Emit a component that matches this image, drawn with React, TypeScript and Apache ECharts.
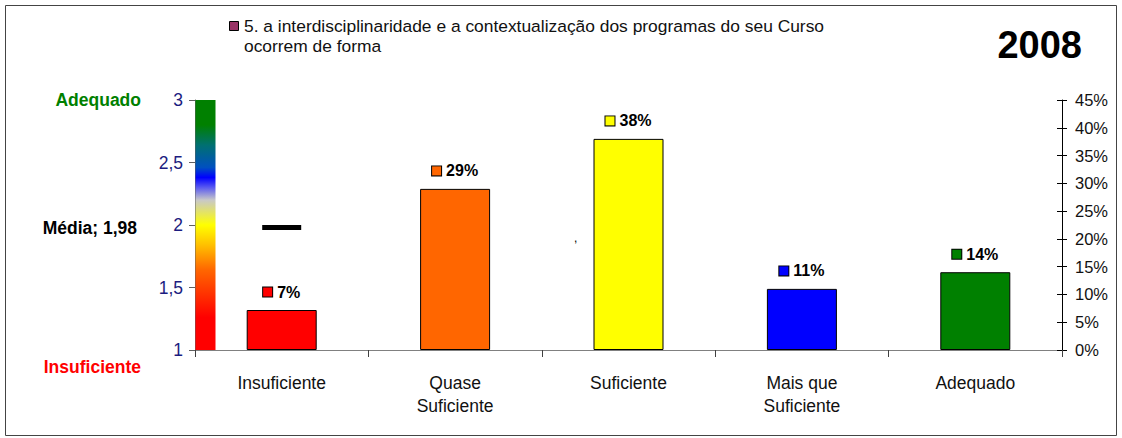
import React, { useEffect, useRef } from "react";
import * as echarts from "echarts";

const categories = ["Insuficiente", "Quase\nSuficiente", "Suficiente", "Mais que\nSuficiente", "Adequado"];
const shares = [0.072, 0.29, 0.38, 0.11, 0.14];
const barColors = ["#ff0000", "#ff6600", "#ffff00", "#0000ff", "#008000"];
const meanValue = 1.98;
const meanCategory = "Insuficiente";
const scaleMin = 1;
const scaleMax = 3;
const scaleStep = 0.5;
const pctMax = 0.45;
const pctStep = 0.05;
const legendText = "5. a interdisciplinaridade e a contextualização dos programas do seu Curso\nocorrem de forma";
const yearText = "2008";
const topLabel = "Adequado";
const bottomLabel = "Insuficiente";
const meanLabel = "Média; 1,98";

const FONT = "'Liberation Sans', Arial, Helvetica, sans-serif";
const GRID_LEFT = 195;
const GRID_RIGHT = 60;
const GRID_TOP = 100;
const GRID_BOTTOM = 88;

export default function App() {
  const ref = useRef<HTMLDivElement>(null);

  useEffect(() => {
    if (!ref.current) return;
    const chart = echarts.init(ref.current, null, { renderer: "svg" });

    const rich: Record<string, any> = {
      v: { fontFamily: FONT, fontSize: 16, fontWeight: "bold", color: "#000", padding: [0, 0, 0, 5] },
    };
    barColors.forEach((c, i) => {
      rich["m" + i] = { width: 9, height: 9, backgroundColor: c, borderColor: "#000", borderWidth: 1 };
    });

    chart.setOption({
      animation: false,
      backgroundColor: "#ffffff",
      grid: { left: GRID_LEFT, right: GRID_RIGHT, top: GRID_TOP, bottom: GRID_BOTTOM, containLabel: false },
      xAxis: {
        type: "category",
        data: categories,
        boundaryGap: true,
        axisLine: { show: true, lineStyle: { color: "#808080", width: 1 } },
        axisTick: { show: true, length: 7, lineStyle: { color: "#404040" } },
        axisLabel: { color: "#111", fontFamily: FONT, fontSize: 17.5, margin: 21, lineHeight: 23, interval: 0 },
        splitLine: { show: false },
      },
      yAxis: [
        {
          type: "value",
          position: "left",
          min: scaleMin,
          max: scaleMax,
          interval: scaleStep,
          axisLine: { show: true, lineStyle: { color: "#606060" } },
          axisTick: { show: true, length: 6, lineStyle: { color: "#606060" } },
          axisLabel: {
            color: "#1c1c80",
            fontFamily: FONT,
            fontSize: 17.5,
            margin: 12,
            formatter: (v: number) => String(v).replace(".", ","),
          },
          splitLine: { show: false },
        },
        {
          type: "value",
          position: "right",
          min: 0,
          max: pctMax,
          interval: pctStep,
          axisLine: { show: true, lineStyle: { color: "#000" } },
          axisTick: { show: true, length: 5, lineStyle: { color: "#000" } },
          axisLabel: {
            color: "#111",
            fontFamily: FONT,
            fontSize: 16.5,
            margin: 13,
            formatter: (v: number) => Math.round(v * 100) + "%",
          },
          splitLine: { show: false },
        },
        {
          type: "value",
          position: "right",
          min: 0,
          max: pctMax,
          interval: pctStep,
          axisLine: { show: false },
          axisTick: { show: true, inside: true, length: 5, lineStyle: { color: "#000" } },
          axisLabel: { show: false },
          splitLine: { show: false },
        },
      ],
      series: [
        {
          name: "Percentual",
          type: "bar",
          yAxisIndex: 1,
          barWidth: 70,
          data: shares.map((v, i) => ({
            value: v,
            itemStyle: { color: barColors[i], borderColor: "#000", borderWidth: 1 },
          })),
          label: {
            show: true,
            position: "top",
            distance: 10,
            formatter: (p: any) => `{m${p.dataIndex}|}{v|${Math.round(p.value * 100)}%}`,
            rich,
          },
          z: 2,
        },
        {
          name: "Média",
          type: "scatter",
          yAxisIndex: 0,
          symbol: "rect",
          symbolSize: [39, 5],
          itemStyle: { color: "#000", opacity: 1 },
          data: [[meanCategory, meanValue]],
          z: 5,
        },
      ],
    });

    const yTop = chart.convertToPixel({ yAxisIndex: 0 }, scaleMax) as number;
    const yBot = chart.convertToPixel({ yAxisIndex: 0 }, scaleMin) as number;
    const yMean = chart.convertToPixel({ yAxisIndex: 0 }, meanValue) as number;

    chart.setOption({
      graphic: [
        {
          type: "rect",
          shape: { x: 5.5, y: 5.5, width: 1111, height: 430 },
          style: { fill: "none", stroke: "#444", lineWidth: 1 },
          silent: true,
          z: 0,
        },
        {
          type: "rect",
          shape: { x: GRID_LEFT + 0.5, y: yTop, width: 20, height: yBot - yTop },
          style: {
            fill: new echarts.graphic.LinearGradient(0, 0, 0, 1, [
              { offset: 0, color: "#008000" },
              { offset: 0.1, color: "#008000" },
              { offset: 0.18, color: "#007070" },
              { offset: 0.27, color: "#0050c0" },
              { offset: 0.31, color: "#0000ff" },
              { offset: 0.35, color: "#5a5af0" },
              { offset: 0.4, color: "#c8c8c8" },
              { offset: 0.5, color: "#ffff00" },
              { offset: 0.58, color: "#ffc000" },
              { offset: 0.68, color: "#ff6600" },
              { offset: 0.78, color: "#ff3000" },
              { offset: 0.87, color: "#ff0000" },
              { offset: 1, color: "#ff0000" },
            ]),
          },
          z: 10,
        },
        {
          type: "text",
          x: 141,
          y: yTop,
          style: { text: topLabel, fill: "#008000", font: `bold 17.5px ${FONT}`, align: "right", verticalAlign: "middle" },
          z: 10,
        },
        {
          type: "text",
          x: 141,
          y: yBot + 17,
          style: { text: bottomLabel, fill: "#ff0000", font: `bold 17.5px ${FONT}`, align: "right", verticalAlign: "middle" },
          z: 10,
        },
        {
          type: "text",
          x: 137,
          y: yMean,
          style: { text: meanLabel, fill: "#000", font: `bold 17.5px ${FONT}`, align: "right", verticalAlign: "middle" },
          z: 10,
        },
        {
          type: "rect",
          shape: { x: 229.5, y: 21.5, width: 9, height: 9 },
          style: { fill: "#993366", stroke: "#000", lineWidth: 1 },
          z: 10,
        },
        {
          type: "text",
          x: 244,
          y: 16,
          style: { text: legendText, fill: "#111", font: `17.4px ${FONT}`, lineHeight: 20, verticalAlign: "top" },
          z: 10,
        },
        {
          type: "text",
          x: 1082,
          y: 45,
          style: { text: yearText, fill: "#000", font: `bold 38px ${FONT}`, align: "right", verticalAlign: "middle" },
          z: 10,
        },
        {
          type: "text",
          x: 574,
          y: 232,
          style: { text: ",", fill: "#000", font: `12px ${FONT}` },
          z: 10,
        },
      ],
    });

    return () => chart.dispose();
  }, []);

  return (
    <div
      ref={ref}
      style={{ position: "absolute", left: 0, top: 0, width: 1122, height: 438, background: "#fff" }}
    />
  );
}
